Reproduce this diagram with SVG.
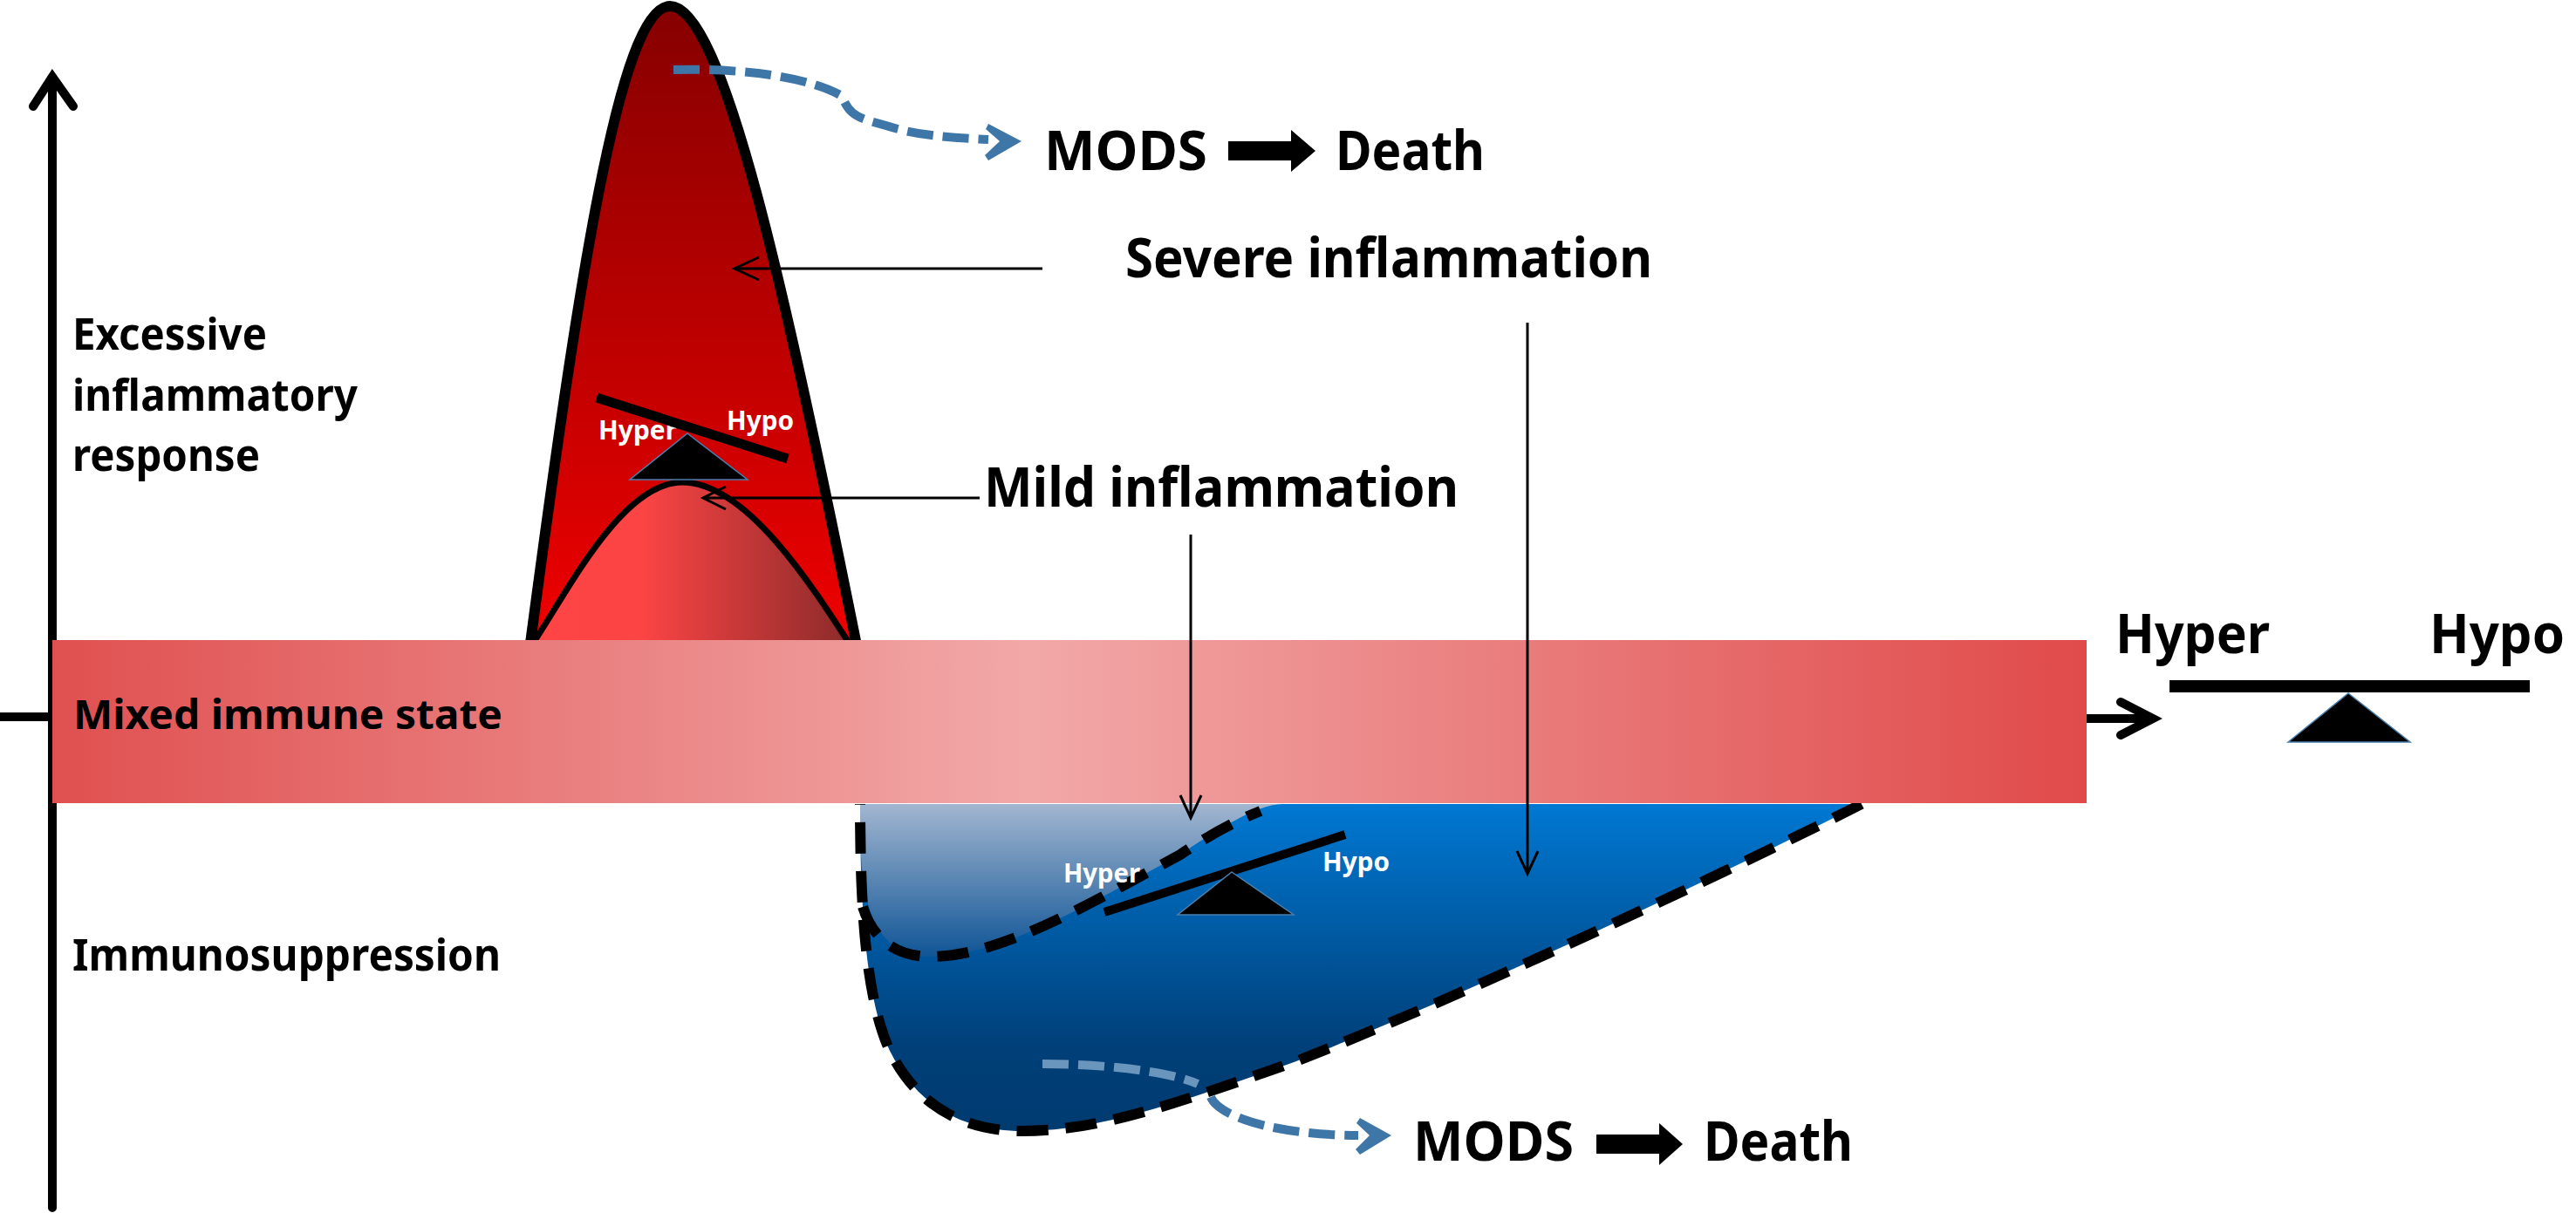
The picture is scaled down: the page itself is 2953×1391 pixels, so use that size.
<svg xmlns="http://www.w3.org/2000/svg" width="2953" height="1391" viewBox="0 0 2953 1391">
<style>
text{font-family:"Noto Sans","Open Sans","Liberation Sans",sans-serif;font-weight:700;fill:#000}
.w{fill:#fff;font-size:30px}
.big{font-size:62px}
.mid{font-size:50px}
.axis{fill:none;stroke:#000;stroke-width:10;stroke-linecap:round}
.thin{fill:none;stroke:#000;stroke-width:3}
.dash{fill:none;stroke:#000;stroke-width:12;stroke-dasharray:36 20}
.blue{fill:none;stroke:#3f76a8;stroke-width:10;stroke-dasharray:30 11}
.tri{fill:#000;stroke:#4a7fae;stroke-width:1.5}
</style>
<defs>
<linearGradient id="gRed" x1="0" y1="0" x2="0" y2="1"><stop offset="0" stop-color="#860000"/><stop offset="1" stop-color="#f00000"/></linearGradient>
<linearGradient id="gPeak" x1="0" y1="0" x2="1" y2="0"><stop offset="0" stop-color="#ff4444"/><stop offset=".35" stop-color="#fb4444"/><stop offset="1" stop-color="#8a2a2a"/></linearGradient>
<linearGradient id="gBar" x1="0" y1="0" x2="1" y2="0"><stop offset="0" stop-color="#e05050"/><stop offset=".48" stop-color="#f2a8a8"/><stop offset="1" stop-color="#e04a4a"/></linearGradient>
<linearGradient id="gBlue" x1="0" y1="0" x2="0" y2="1"><stop offset="0" stop-color="#0078d2"/><stop offset=".75" stop-color="#003f78"/><stop offset="1" stop-color="#003b70"/></linearGradient>
<linearGradient id="gPale" x1="0" y1="0" x2="0" y2="1"><stop offset="0" stop-color="#a2b6d0"/><stop offset="1" stop-color="#105596"/></linearGradient>
</defs>
<g id="red-curve">
<path d="M607,745C662,330 710,7 768,7C828,7 900,330 983,745Z" fill="url(#gRed)" stroke="#000" stroke-width="12"/>
<path d="M606,745C645,690 710,553 782,553C855,553 930,670 978,745Z" fill="url(#gPeak)" stroke="#000" stroke-width="7"/>
</g>
<g id="blue-curve">
<path d="M986,922C986,1060 995,1150 1020,1205C1050,1265 1100,1297 1172,1297C1260,1297 1350,1265 1486,1217C1620,1165 1900,1040 2134,922Z" fill="url(#gBlue)"/>
<path d="M986,922C986,1000 985,1097 1067,1097C1150,1097 1260,1030 1353,980C1390,955 1440,922 1470,922Z" fill="url(#gPale)"/>
<path class="dash" d="M2134,922C1900,1040 1620,1165 1486,1217C1350,1265 1260,1297 1172,1297C1100,1297 1050,1265 1020,1205C995,1150 986,1060 986,922"/>
<path class="dash" d="M989,1040C1000,1075 1025,1097 1067,1097C1150,1097 1260,1030 1353,980C1390,955 1420,940 1445,930"/>
</g>
<g id="axes">
<path class="axis" d="M60,1385V90M38,122L60,88L84,122M0,822H60M2392,824H2466M2431,805L2468,824L2431,843"/>
</g>
<g id="mixed-state">
<rect x="60" y="734" width="2332" height="187" fill="url(#gBar)"/>
<text x="84" y="836" font-size="47" textLength="492" lengthAdjust="spacingAndGlyphs">Mixed immune state</text>
</g>
<g id="connectors">
<path class="thin" d="M1195,308H842M870,295L842,308L870,321"/>
<path class="thin" d="M1123,571H806M832,558L806,571L832,584"/>
<path class="thin" d="M1365,613V938M1353,912L1365,938L1377,912"/>
<path class="thin" d="M1751,370V1002M1739,976L1751,1002L1763,976"/>
<path class="blue" d="M772,80C860,78 930,90 965,110C975,135 985,135 1019,145C1050,155 1090,158 1133,160"/>
<path d="M1130,148L1133,142L1171,162L1133,184L1129,178L1146,162Z" fill="#3f76a8"/>
<path class="blue" style="stroke:#6a95bd" d="M1195,1220C1260,1220 1340,1228 1373,1243"/>
<path class="blue" d="M1388,1258C1395,1275 1430,1287 1460,1293C1490,1299 1525,1302 1557,1302"/>
<path d="M1555,1288L1559,1282L1595,1302L1559,1324L1554,1318L1570,1302Z" fill="#3f76a8"/>
</g>
<g id="balance-top">
<text class="w" x="686" y="504" textLength="90" lengthAdjust="spacingAndGlyphs">Hyper</text>
<text class="w" x="833" y="493" textLength="77" lengthAdjust="spacingAndGlyphs">Hypo</text>
<path d="M684,456L903,526" stroke="#000" stroke-width="11"/>
<path class="tri" d="M788,497L857,550H722Z"/>
</g>
<g id="balance-bottom">
<text class="w" x="1219" y="1012" textLength="88" lengthAdjust="spacingAndGlyphs">Hyper</text>
<text class="w" x="1516" y="999" textLength="77" lengthAdjust="spacingAndGlyphs">Hypo</text>
<path d="M1266,1046L1542,957" stroke="#000" stroke-width="10"/>
<path class="tri" d="M1412,1000L1483,1049H1350Z"/>
</g>
<g id="balance-right">
<text x="2425" y="749" font-size="62" textLength="177" lengthAdjust="spacingAndGlyphs">Hyper</text>
<text x="2785" y="749" font-size="62" textLength="155" lengthAdjust="spacingAndGlyphs">Hypo</text>
<rect x="2487" y="780" width="413" height="14" fill="#000"/>
<path class="tri" d="M2692,795L2763,851H2623Z"/>
</g>
<g id="outcome-top">
<text class="big" x="1197" y="195" textLength="187" lengthAdjust="spacingAndGlyphs">MODS</text>
<path d="M1408,162H1480V149L1508,173L1480,197V184H1408Z" fill="#000"/>
<text class="big" x="1531" y="195" textLength="171" lengthAdjust="spacingAndGlyphs">Death</text>
</g>
<g id="outcome-bottom">
<text class="big" x="1620" y="1331" textLength="184" lengthAdjust="spacingAndGlyphs">MODS</text>
<path d="M1830,1301H1902V1288L1929,1312L1902,1336V1323H1830Z" fill="#000"/>
<text class="big" x="1953" y="1331" textLength="171" lengthAdjust="spacingAndGlyphs">Death</text>
</g>
<g id="labels">
<text class="big" x="1290" y="318" textLength="604" lengthAdjust="spacingAndGlyphs">Severe inflammation</text>
<text class="big" x="1128" y="581" textLength="544" lengthAdjust="spacingAndGlyphs">Mild inflammation</text>
<text class="mid" x="83" y="401" textLength="223" lengthAdjust="spacingAndGlyphs">Excessive</text>
<text class="mid" x="83" y="471" textLength="327" lengthAdjust="spacingAndGlyphs">inflammatory</text>
<text class="mid" x="83" y="540" textLength="215" lengthAdjust="spacingAndGlyphs">response</text>
<text class="mid" x="83" y="1113" textLength="491" lengthAdjust="spacingAndGlyphs">Immunosuppression</text>
</g>
</svg>
